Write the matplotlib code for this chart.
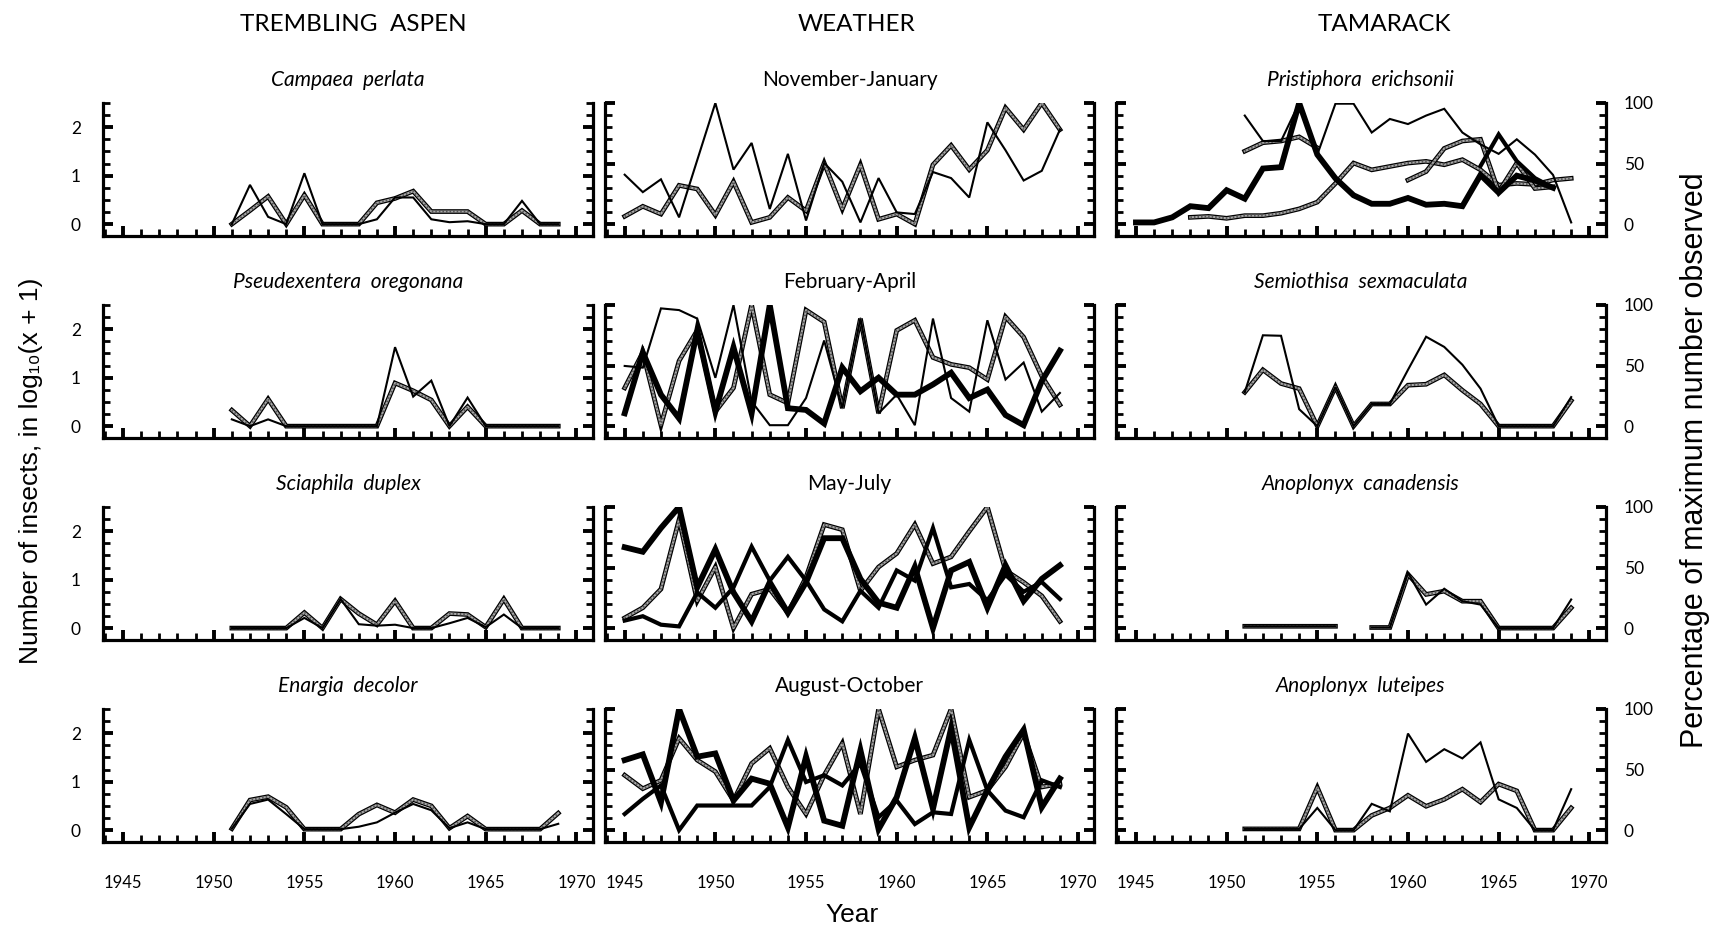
import matplotlib
matplotlib.use("Agg")
import matplotlib.pyplot as plt
import numpy as np
from matplotlib.ticker import MultipleLocator

plt.rcParams['font.family'] = ['Lato', 'DejaVu Sans']

years = np.arange(1945, 1970)
yrs51 = np.arange(1951, 1970)
N = None

# trembling aspen, log10(x+1), 1951-1969
campaea_thin = [0, 0.81, 0.15, 0, 1.05, 0, 0, 0, 0.1, 0.55, 0.55, 0.1, 0.04, 0.06, 0, 0, 0.48, 0, 0]
campaea_hatch = [0, 0.28, 0.57, 0, 0.6, 0, 0, 0, 0.44, 0.53, 0.68, 0.26, 0.26, 0.26, 0, 0, 0.28, 0, 0]
pseud_thin = [0.14, 0, 0.14, 0, 0, 0, 0, 0, 0, 1.63, 0.61, 0.94, 0, 0.59, 0, 0, 0, 0, 0]
pseud_hatch = [0.33, 0, 0.56, 0, 0, 0, 0, 0, 0, 0.89, 0.73, 0.54, 0, 0.4, 0, 0, 0, 0, 0]
sciaph_thin = [0, 0, 0, 0, 0.21, 0, 0.6, 0.08, 0.05, 0.07, 0, 0, 0.1, 0.21, 0.02, 0.28, 0, 0, 0]
sciaph_hatch = [0, 0, 0, 0, 0.32, 0, 0.6, 0.3, 0.07, 0.56, 0, 0, 0.3, 0.28, 0.02, 0.6, 0, 0, 0]
enarg_thin = [0.03, 0.54, 0.63, 0.33, 0.02, 0.02, 0.02, 0.07, 0.16, 0.36, 0.54, 0.41, 0.04, 0.16, 0.02, 0.02, 0.02, 0.02, 0.13]
enarg_hatch = [0.03, 0.62, 0.69, 0.47, 0.02, 0.02, 0.02, 0.33, 0.52, 0.36, 0.63, 0.5, 0.04, 0.29, 0.02, 0.02, 0.02, 0.02, 0.35]

# weather, percent of max, 1945-1969
nj_thin = [40.8, 26.4, 37, 5.6, 52.8, 100, 45, 67, 12.5, 58, 3, 50.5, 35, 1.4, 38, 9.7, 8.3, 43, 38, 22, 84, 61, 36, 44, 78]
nj_double = [6.4, 14.7, 8.3, 32, 29, 7.5, 35, 1.4, 5.6, 22, 11, 50.5, 12.5, 49, 4, 8.3, 0, 49, 65, 45, 61, 96, 78, 100, 78]
fa_thin = [49.7, 48.3, 97.2, 95.8, 88.8, 39.9, 100, 20.4, 0.8, 0.8, 23.2, 70.7, 14.8, 88.8, 10.6, 26, 0.8, 88.8, 23.2, 12, 87.4, 38.5, 52.5, 12, 27.4]
fa_double = [31.6, 60.9, 0.8, 53.9, 79, 12, 31.6, 100, 26, 19, 95.8, 86, 14.8, 88.8, 10.6, 79, 87.4, 56.7, 51, 48.3, 38.5, 90.2, 73.5, 41.3, 17.6]
fa_thick = [10.6, 60.9, 26, 6.4, 79, 12, 65, 10.6, 100, 14.8, 13.4, 2.2, 48.3, 28.8, 40, 26, 26, 34.4, 44.1, 23.2, 30.2, 9.2, 0.8, 37.2, 62.3]
mj_thick = [66.7, 63, 82.6, 100, 33.6, 65, 29.4, 5.6, 37.8, 12.6, 37.8, 74.2, 74.2, 40.6, 21, 16.8, 50.4, 0, 47.6, 54.6, 16.8, 51.8, 22.4, 40.6, 51.8]
mj_double = [8.4, 16.8, 32.2, 89.6, 22.4, 50.4, 0, 28, 32.2, 12.6, 42, 85.4, 81.2, 30.8, 50.4, 61.6, 85.4, 53.2, 58.8, 79.8, 100, 47.6, 37.8, 26.6, 5.6]
mj_medium = [6.2, 9.8, 2.8, 1.4, 29.4, 16.8, 33.6, 67.2, 39.2, 58.8, 39.2, 15.4, 5.6, 30.8, 16.8, 47.6, 39.2, 82.6, 33.6, 36.4, 23, 44, 30, 38, 24]
ao_thick = [57.8, 62.5, 23, 100, 60.6, 63.3, 24.4, 42.5, 38.3, 2.2, 60.6, 7.8, 3.6, 66, 0.8, 27.2, 75.8, 17.5, 84.2, 2.2, 32.8, 60.6, 82.8, 18.9, 42.5]
ao_double = [45.3, 34.2, 41.1, 75.8, 57.8, 48.3, 24.4, 55, 67.5, 35.6, 13.3, 45.3, 71.7, 13.3, 100, 52.2, 57.8, 61.9, 100, 27.2, 32.8, 52.2, 80, 35.6, 38.3]
ao_medium = [13.3, 25.8, 36.9, 0, 20.3, 20.3, 20.3, 20.3, 35.6, 74.4, 39.7, 45.3, 36.9, 55, 10.6, 24.4, 5, 14.7, 13.3, 74.4, 32.8, 16.1, 10.6, 41.1, 35.6]

# tamarack, percent of max
pe_thick = [1.4, 1.4, 5.6, 14.8, 13.2, 28, 21, 45.9, 47, 100, 57.4, 37.8, 23.8, 16.8, 16.8, 21.6, 16, 16.8, 14.8, 40.6, 26, 40, 36, 30, N]
pe_thin = [N] * 6 + [89.6, 68.6, 68.6, 100, 57.4, 99.4, 99.4, 75.6, 86.8, 82.6, 89.6, 95.2, 75.6, 65.8, 58, 70, 57.4, 40.6, 1.4]
pe_double1 = [N] * 3 + [5.6, 6.4, 4.8, 7, 7, 9, 12.6, 18.2, 33.6, 50.4, 44.8, 47.6, 50.4, 51.8, 49, 53.2, 44.8, 32.2, 33.6, 32.8, 36.4, 37.8]
pe_double2 = [N] * 6 + [60.2, 67.2, 68.6, 72, 63] + [N] * 14
pe_double3 = [N] * 15 + [36.4, 43.4, 62.5, 68.6, 70, 26.6, 50.4, 29.4, 30.8, N]
pe_thin2 = [N] * 19 + [48, 74, 52, 38, 30, N]
ss_thin = [28, 75, 74.6, 14, 0, 32.4, 0, 18.3, 18.3, 46.5, 73.8, 65.4, 50.7, 31, 0, 0, 0, 0, 24]
ss_hatch = [28, 46.5, 35.2, 31, 0, 32.4, 0, 18.3, 18.3, 33.8, 34.6, 42.3, 29.6, 18.3, 0, 0, 0, 0, 21]
ac_thin = [1.5, 1.5, 1.5, 1.5, 1.5, 1.5, N, 0.5, 0.5, 45.8, 19.4, 32.5, 22.2, 19.4, 0, 0, 0, 0, 23.6]
ac_hatch = [1.5, 1.5, 1.5, 1.5, 1.5, 1.5, N, 0.5, 0.5, 44.4, 27.8, 30.5, 22.2, 22.2, 0, 0, 0, 0, 16.7]
al_thin = [1, 1, 1, 1, 18.3, 0, 0, 21.7, 15.5, 79.7, 56.3, 66.8, 59.2, 72.4, 25.4, 18.3, 0, 0, 33.8]
al_hatch = [1, 1, 1, 1, 35.2, 0, 0, 12.1, 18.3, 28.7, 19.7, 25.4, 33.8, 23.1, 38, 32.4, 0, 0, 18.3]

aspen_titles = ['Campaea  perlata', 'Pseudexentera  oregonana', 'Sciaphila  duplex', 'Enargia  decolor']
weather_titles = ['November-January', 'February-April', 'May-July', 'August-October']
tamarack_titles = ['Pristiphora  erichsonii', 'Semiothisa  sexmaculata', 'Anoplonyx  canadensis', 'Anoplonyx  luteipes']


def arr(v):
    return np.array([np.nan if a is None else a for a in v], dtype=float)


def thin(ax, x, y):
    ax.plot(x, arr(y), color='black', lw=1.5, solid_joinstyle='miter', zorder=3)


def thick(ax, x, y, lw=4.2):
    ax.plot(x, arr(y), color='black', lw=lw, solid_joinstyle='miter', zorder=3)


def hatched(ax, x, y):
    y = arr(y)
    ax.plot(x, y, color='black', lw=3.4, solid_joinstyle='miter', zorder=2)
    ax.plot(x, y, color='#a8a8a8', lw=1.6, zorder=2)
    ax.plot(x, y, color='#555555', lw=1.6, ls=(0, (0.7, 0.9)), zorder=2)


fig = plt.figure(figsize=(17.18, 9.31), dpi=100)

lefts = [0.0600, 0.3520, 0.6496]
bottoms = [0.7465, 0.5295, 0.3126, 0.0956]
w, h = 0.285, 0.1429

axes = [[fig.add_axes([l, b, w, h]) for l in lefts] for b in bottoms]

for r in range(4):
    for c in range(3):
        ax = axes[r][c]
        ax.set_xlim(1943.9, 1970.9)
        for s in ['left', 'right', 'bottom']:
            ax.spines[s].set_linewidth(2.3)
        ax.spines['top'].set_visible(False)
        ax.xaxis.set_major_locator(MultipleLocator(5))
        ax.xaxis.set_minor_locator(MultipleLocator(1))
        if c == 0:
            ax.set_ylim(-0.245, 2.5)
            ax.set_yticks([0, 1, 2])
            ax.set_yticks(np.arange(0, 2.51, 0.25), minor=True)
        else:
            ax.set_ylim(-9.8, 100)
            ax.set_yticks([0, 50, 100])
            ax.set_yticks(np.arange(0, 101, 10), minor=True)
        ax.tick_params(which='both', direction='in', left=True, right=True, top=False, bottom=True)
        ax.tick_params(which='major', length=7, width=2.8)
        ax.tick_params(which='minor', length=5, width=2.0)
        ax.tick_params(axis='x', labelbottom=(r == 3), pad=24, labelsize=12)
        ax.tick_params(axis='y', labelsize=12.5, labelleft=(c == 0), labelright=(c == 2))
        if c == 0:
            ax.tick_params(axis='y', pad=16)
        if c == 2:
            ax.tick_params(axis='y', pad=13)

# trembling aspen
aspen_data = [(campaea_thin, campaea_hatch), (pseud_thin, pseud_hatch),
              (sciaph_thin, sciaph_hatch), (enarg_thin, enarg_hatch)]
for r, (a, b) in enumerate(aspen_data):
    ax = axes[r][0]
    hatched(ax, yrs51, b)
    thin(ax, yrs51, a)
    ax.set_title(aspen_titles[r], style='italic', fontsize=15, pad=12)

# weather
ax = axes[0][1]
hatched(ax, years, nj_double)
thin(ax, years, nj_thin)
ax = axes[1][1]
hatched(ax, years, fa_double)
thin(ax, years, fa_thin)
thick(ax, years, fa_thick)
ax = axes[2][1]
hatched(ax, years, mj_double)
thick(ax, years, mj_medium, lw=3.0)
thick(ax, years, mj_thick)
ax = axes[3][1]
hatched(ax, years, ao_double)
thick(ax, years, ao_medium, lw=3.0)
thick(ax, years, ao_thick)
for r in range(4):
    axes[r][1].set_title(weather_titles[r], fontsize=15, pad=12)

# tamarack
ax = axes[0][2]
hatched(ax, years, pe_double1)
hatched(ax, years, pe_double2)
hatched(ax, years, pe_double3)
thin(ax, years, pe_thin)
thick(ax, years, pe_thin2, lw=3.0)
thick(ax, years, pe_thick)
tam_data = [(ss_thin, ss_hatch), (ac_thin, ac_hatch), (al_thin, al_hatch)]
for r, (a, b) in enumerate(tam_data, start=1):
    ax = axes[r][2]
    hatched(ax, yrs51, b)
    thin(ax, yrs51, a)
for r in range(4):
    axes[r][2].set_title(tamarack_titles[r], style='italic', fontsize=15, pad=12)

fig.text(0.2055, 0.974, 'TREMBLING  ASPEN', ha='center', va='center', fontsize=17.5)
fig.text(0.4988, 0.974, 'WEATHER', ha='center', va='center', fontsize=17.5)
fig.text(0.8056, 0.974, 'TAMARACK', ha='center', va='center', fontsize=17.5)

fig.text(0.018, 0.494, 'Number of insects, in log₁₀(x + 1)', rotation=90, ha='center', va='center',
         fontsize=19, family=['Liberation Sans', 'DejaVu Sans'])
fig.text(0.9866, 0.506, 'Percentage of maximum number observed', rotation=90, ha='center', va='center',
         fontsize=22, family=['Liberation Sans', 'DejaVu Sans'])
fig.text(0.496, 0.017, 'Year', ha='center', va='center', fontsize=19, family=['Liberation Sans', 'DejaVu Sans'])

fig.savefig('out.png', dpi=100)
